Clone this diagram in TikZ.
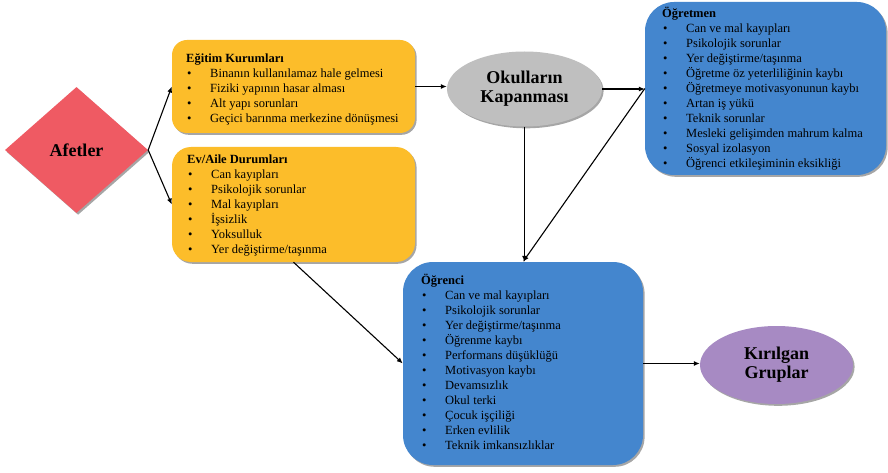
\documentclass[tikz,border=0pt]{standalone}
\usepackage{fontspec}
\setmainfont{Liberation Serif}
\usetikzlibrary{shapes.geometric,shadows,arrows.meta}
\definecolor{orangebox}{RGB}{252,189,42}
\definecolor{bluebox}{RGB}{68,134,206}
\definecolor{grayell}{RGB}{191,191,191}
\definecolor{reddia}{RGB}{239,90,99}
\definecolor{purpleell}{RGB}{167,138,195}
\newcommand{\itm}[1]{\hspace*{1pt}\makebox[23pt][l]{\textbullet}#1\strut}
\newcommand{\hdr}[1]{\textbf{#1}\rule{0pt}{12pt}}
\tikzset{
  shad/.style={drop shadow={shadow xshift=1.6pt, shadow yshift=-1.8pt, opacity=0.35, fill=black}},
  obox/.style={rectangle, rounded corners=#1, fill=orangebox, shad, inner sep=0pt},
  bbox/.style={rectangle, rounded corners=#1, fill=bluebox, shad, inner sep=0pt},
  listtext/.style={anchor=north west, inner sep=0pt, align=left, font=\fontsize{12.5}{15}\selectfont},
  bigtext/.style={font=\bfseries\fontsize{18}{19}\selectfont, align=center, inner sep=0pt},
  arr/.style={-{Latex[length=6pt,width=5pt]}, line width=1.1pt, black},
}
\begin{document}
\begin{tikzpicture}[x=1pt,y=-1pt]
\path[use as bounding box, fill=white] (0,0) rectangle (888,473);

% shapes
\node[diamond, fill=reddia, shad, minimum width=143, minimum height=126, inner sep=0pt, font=\bfseries\fontsize{18}{19}\selectfont] (afet) at (76.5,150) {Afetler};

\node[obox=15, minimum width=243, minimum height=93] (egitim) at (293.5,86.5) {};
\node[obox=19, minimum width=243, minimum height=115] (ev) at (293.5,204.5) {};
\node[bbox=29, minimum width=241, minimum height=173] (ogretmen) at (765.5,88.5) {};
\node[bbox=30, minimum width=240, minimum height=203] (ogrenci) at (523,363.5) {};

\node[ellipse, fill=grayell, shad, minimum width=155, minimum height=75, bigtext] (okul) at (524.5,89) {Okulların\\Kapanması};
\node[ellipse, fill=purpleell, shad, minimum width=153, minimum height=78, bigtext] (kir) at (776.5,365) {Kırılgan\\Gruplar};

% texts
\node[listtext] (egitimtxt) at (186,50) {\hdr{Eğitim Kurumları}\\
\itm{Binanın kullanılamaz hale gelmesi}\\
\itm{Fiziki yapının hasar alması}\\
\itm{Alt yapı sorunları}\\
\itm{Geçici barınma merkezine dönüşmesi}};

\node[listtext] (evtxt) at (187,151) {\hdr{Ev/Aile Durumları}\\
\itm{Can kayıpları}\\
\itm{Psikolojik sorunlar}\\
\itm{Mal kayıpları}\\
\itm{İşsizlik}\\
\itm{Yoksulluk}\\
\itm{Yer değiştirme/taşınma}};

\node[listtext] (ogretmentxt) at (662,5) {\hdr{Öğretmen}\\
\itm{Can ve mal kayıpları}\\
\itm{Psikolojik sorunlar}\\
\itm{Yer değiştirme/taşınma}\\
\itm{Öğretme öz yeterliliğinin kaybı}\\
\itm{Öğretmeye motivasyonunun kaybı}\\
\itm{Artan iş yükü}\\
\itm{Teknik sorunlar}\\
\itm{Mesleki gelişimden mahrum kalma}\\
\itm{Sosyal izolasyon}\\
\itm{Öğrenci etkileşiminin eksikliği}};

\node[listtext] (ogrencitxt) at (421,272.5) {\hdr{Öğrenci}\\
\itm{Can ve mal kayıpları}\\
\itm{Psikolojik sorunlar}\\
\itm{Yer değiştirme/taşınma}\\
\itm{Öğrenme kaybı}\\
\itm{Performans düşüklüğü}\\
\itm{Motivasyon kaybı}\\
\itm{Devamsızlık}\\
\itm{Okul terki}\\
\itm{Çocuk işçiliği}\\
\itm{Erken evlilik}\\
\itm{Teknik imkansızlıklar}};

% connectors
\draw[arr] (afet.east) -- (egitim.west);
\draw[arr] (afet.east) -- (ev.west);
\draw[arr] (egitim.east) -- (egitim.east -| okul.west);
\draw[arr] (okul.east) -- (okul.east -| ogretmen.west);
\draw[arr] (ogretmen.west) -- (ogrenci.north);
\draw[arr] (okul.south) -- (okul.south |- ogrenci.north);
\draw[arr] (ev.south) -- (ogrenci.west);
\draw[arr] (ogrenci.east) -- (ogrenci.east -| kir.west);
\end{tikzpicture}
\end{document}
